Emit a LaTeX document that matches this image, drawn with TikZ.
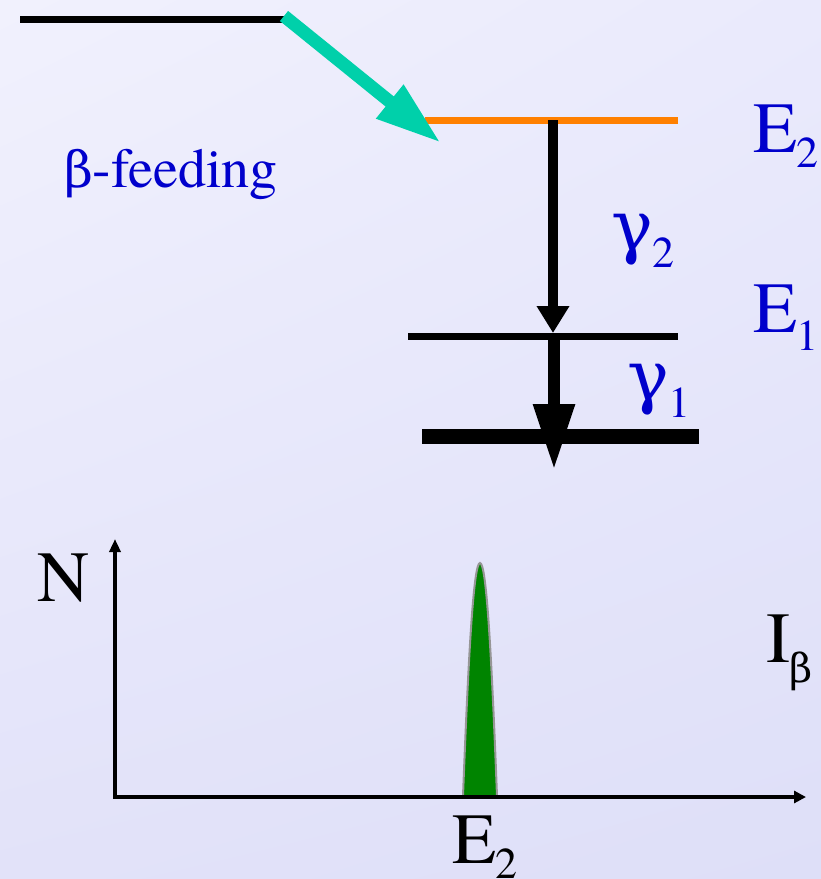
\documentclass[tikz,border=0pt]{standalone}
\usepackage{fontspec}
\newfontfamily\tmsfont{TeX Gyre Termes}
\newfontfamily\grkfont{DejaVu Serif}
\usetikzlibrary{arrows.meta,shadings}
\definecolor{bgUL}{RGB}{241,241,253}
\definecolor{bgUR}{RGB}{234,234,252}
\definecolor{bgLL}{RGB}{226,226,249}
\definecolor{bgLR}{RGB}{222,223,248}
\definecolor{lblue}{RGB}{0,0,204}
\definecolor{feedteal}{RGB}{0,208,170}
\definecolor{lvlorange}{RGB}{255,128,0}
\definecolor{peakgreen}{RGB}{0,132,0}
\definecolor{peakgray}{RGB}{150,150,150}
\tikzset{
  lbl/.style={inner sep=0pt, outer sep=0pt, anchor=base west, text=lblue, font=\tmsfont\fontsize{72}{72}\selectfont},
  blk/.style={lbl, text=black},
  level/.style={draw=black, line width=7pt, line cap=butt},
}
\newcommand{\subx}[2]{\raisebox{-#1pt}{\tmsfont\fontsize{44}{44}\selectfont #2}}
\begin{document}
\begin{tikzpicture}[x=1pt,y=-1pt]
\useasboundingbox (0,0) rectangle (821,879);
\shade[upper left=bgUL, upper right=bgUR, lower left=bgLL, lower right=bgLR] (0,0) rectangle (821,879);

% coordinates
\coordinate (p0a) at (20,19);
\coordinate (p0b) at (284,19);
\coordinate (fs) at (284,16);
\coordinate (ft) at (441,143);
\coordinate (e2a) at (425,120);
\coordinate (e2b) at (678,120);
\coordinate (e1a) at (408,336);
\coordinate (e1b) at (678,336);
\coordinate (g0a) at (422,436);
\coordinate (g0b) at (699,436);
\coordinate (g2s) at (553,120);
\coordinate (g2t) at (553,333);
\coordinate (g1s) at (554,336);
\coordinate (g1t) at (554,470);

% levels
\draw[level] (p0a) -- (p0b);
\draw[level, draw=lvlorange] (e2a) -- (e2b);
\draw[level] (e1a) -- (e1b);
\draw[level, line width=15pt] (g0a) -- (g0b);

% transitions
\draw[line width=10pt, -{Triangle[length=27pt,width=31pt]}] (g2s) -- (g2t);
\draw[line width=12pt, -{Triangle[length=66pt,width=39pt]}] (g1s) -- (g1t);
\draw[feedteal, line width=13pt, -{Triangle[length=66pt,width=40pt]}] (fs) -- (ft);

% labels
\node[lbl] (lE2) at (753,152) {E\subx{15}{2}};
\node[lbl] (lE1) at (753,332) {E\subx{18}{1}};
\node[lbl, font=\grkfont\fontsize{70}{70}\selectfont] (lg2) at (611,250) {γ\subx{17}{2}};
\node[lbl, font=\grkfont\fontsize{70}{70}\selectfont] (lg1) at (627,400) {γ\subx{17}{1}};
\node[lbl, font=\tmsfont\fontsize{56}{56}\selectfont] (lbf) at (64,187) {{\grkfont\fontsize{50}{50}\selectfont β}-feeding};

% spectrum
\coordinate (ytip) at (115,539);
\coordinate (org) at (115,797);
\coordinate (xtip) at (806,797);
\draw[line width=4.5pt, {Triangle[length=13pt,width=11pt]}-{Triangle[length=12pt,width=12pt]}] (ytip) -- (org) -- (xtip);
\coordinate (pkL) at (463,796);
\coordinate (pkT) at (480,563);
\coordinate (pkR) at (497,796);
\draw[fill=peakgreen, draw=peakgray, line width=2pt] (pkL) .. controls (469,640) and (474,563) .. (pkT) .. controls (486,563) and (491,640) .. (pkR) -- cycle;
\draw[line width=4.5pt] (440,797) -- (520,797);

\node[blk] (lN) at (37,601) {N};
\node[blk] (lI) at (766,662) {I\raisebox{-20pt}{\grkfont\fontsize{40}{40}\selectfont β}};
\node[blk] (lE2b) at (452,863) {E\subx{15}{2}};
\end{tikzpicture}
\end{document}
